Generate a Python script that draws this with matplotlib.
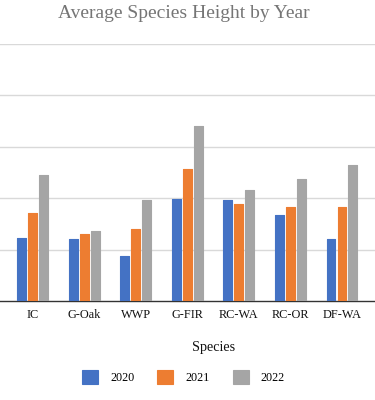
import matplotlib.pyplot as plt
import numpy as np

# species on the x axis
species = ["IC", "G-Oak", "WWP", "G-FIR", "RC-WA", "RC-OR", "DF-WA"]
years = ["2020", "2021", "2022"]

# average height per year (grid step = 10)
h_2020 = [12.3, 12.0, 8.8, 19.8, 19.6, 16.7, 12.1]
h_2021 = [17.2, 13.1, 14.1, 25.6, 18.8, 18.3, 18.3]
h_2022 = [24.5, 13.6, 19.6, 34.0, 21.6, 23.7, 26.5]

colors = ["#4472c4", "#ed7d31", "#a5a5a5"]

plt.rcParams["font.family"] = ["Liberation Serif", "DejaVu Serif"]

fig = plt.figure(figsize=(3.75, 4.0), dpi=100)
ax = fig.add_axes([0.0, 0.2475, 1.0, 0.6425])

x = np.arange(len(species))
w = 0.174
step = 0.213
for i, (vals, c, lab) in enumerate(zip([h_2020, h_2021, h_2022], colors, years)):
    ax.bar(x + (i - 1) * step, vals, width=w, color=c, label=lab,
           edgecolor=c, linewidth=0.8, joinstyle="round", zorder=3)

ax.set_xlim(-0.63, 6.64)
ax.set_ylim(0, 50)
ax.set_yticks([10, 20, 30, 40, 50])
ax.yaxis.grid(True, color="#d9d9d9", linewidth=1.0, zorder=0)
ax.tick_params(axis="y", left=False, labelleft=False)
ax.tick_params(axis="x", length=0, pad=6, labelsize=8.8, labelcolor="#111111")
ax.set_xticks(x)
ax.set_xticklabels(species)

for s in ["top", "right", "left"]:
    ax.spines[s].set_visible(False)
ax.spines["bottom"].set_color("#333333")
ax.spines["bottom"].set_linewidth(1.0)

fig.text(0.491, 0.967, "Average Species Height by Year", ha="center", va="center",
         fontsize=14, color="#757575")
fig.text(0.569, 0.13, "Species", ha="center", va="center", fontsize=10.2,
         color="#111111")

fig.legend(loc="center", bbox_to_anchor=(0.489, 0.057), ncol=3, frameon=False,
           fontsize=8.7, handlelength=1.33, handleheight=1.33,
           handletextpad=1.0, columnspacing=1.9)

plt.savefig("out.png", dpi=100)
